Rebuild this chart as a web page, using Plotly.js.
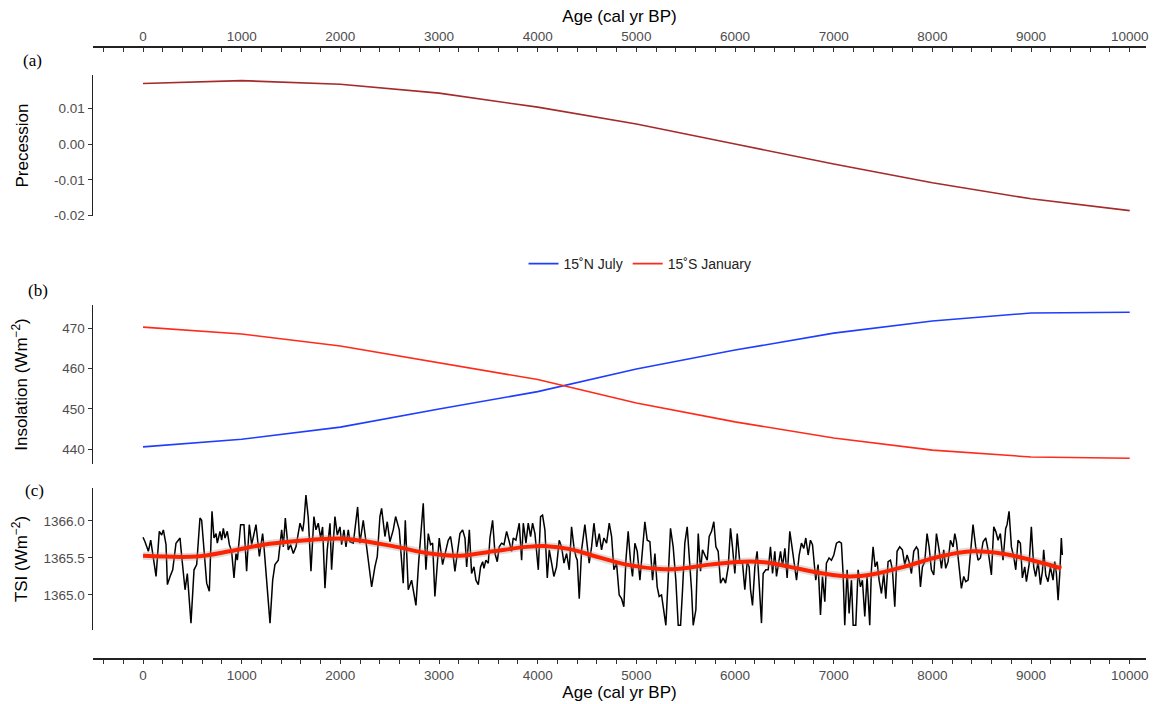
<!DOCTYPE html>
<html>
<head>
<meta charset="utf-8">
<script src="https://cdn.plot.ly/plotly-3.0.1.min.js"></script>
<style>html,body{margin:0;padding:0;background:#fff;}#chart{width:1174px;height:704px;}</style>
</head>
<body>
<div id="chart"></div>
<script>
// ---------- data ----------
const ages = [0, 1000, 2000, 3000, 4000, 5000, 6000, 7000, 8000, 9000, 10000];
const precession = [0.0169, 0.0177, 0.0167, 0.0142, 0.0103, 0.0056, 0.0000, -0.0056, -0.0108, -0.0153, -0.0186];
const insolN15July = [440.6, 442.5, 445.5, 450.0, 454.3, 459.9, 464.6, 468.8, 471.8, 473.8, 474.0];
const insolS15Jan = [470.3, 468.6, 465.6, 461.4, 457.3, 451.5, 446.8, 442.8, 439.8, 438.1, 437.8];

const tsiAge = [0,20,54,78,132,165,189,206,233,247,274,301,334,375,392,426,449,486,517,544,577,594,645,672,699,719,740,753,780,797,814,831,854,875,898,922,942,956,989,1023,1050,1077,1101,1145,1179,1212,1226,1246,1287,1314,1337,1371,1405,1422,1442,1472,1496,1523,1550,1591,1618,1631,1651,1675,1702,1732,1753,1776,1800,1820,1844,1867,1895,1911,1945,1969,1996,2013,2036,2057,2080,2097,2131,2175,2198,2232,2266,2317,2350,2374,2401,2418,2452,2475,2502,2536,2560,2597,2637,2658,2688,2722,2766,2793,2840,2867,2891,2914,2935,2958,3002,3036,3093,3117,3137,3161,3212,
3239,3263,3280,3307,3330,3354,3374,3398,3421,3442,3455,3475,3499,3516,3543,3567,3590,3610,3634,3658,3685,3712,3735,3752,3779,3813,3837,3854,3881,3904,3928,3948,3972,4006,4029,4049,4073,4097,4117,4141,4164,4191,4218,4242,4266,4293,4320,4343,4367,4387,4401,4421,4445,4478,4502,4522,4546,4570,4597,4624,4647,4671,4698,4725,4749,4772,4799,4826,4850,4873,4894,4917,4941,4961,4985,5009,5036,5063,5086,5110,5137,5164,5188,5211,5231,5255,5279,5299,5323,5346,5373,5400,5424,5448,5468,5491,5515,5535,5559,5576,5603,5627,5650,5670,5694,5718,5738,5762,5785,5806,5829,5853,5880,5904,5931,5954,5974,5998,6022,6049,6076,6099,6123,6143,6157,6177,6201,6224,6244,6268,6285,6312,6336,6359,6380,6403,6420,6447,6461,6481,6505,6528,6555,
6572,6589,6606,6623,6650,6673,6697,6717,6741,6764,6785,6798,6818,6842,6866,6886,6910,6926,6953,6977,7001,7028,7055,7078,7095,7112,7136,7156,7180,7197,7224,7247,7271,7291,7315,7338,7365,7382,7399,7420,7440,7460,7484,7507,7528,7551,7575,7595,7619,7642,7669,7696,7720,7744,7764,7788,7811,7838,7855,7879,7899,7923,7946,7967,7990,8014,8041,8068,8092,8115,8135,8159,8183,8210,8227,8244,8271,8294,8318,8338,8362,8385,8412,8439,8463,8487,8514,8541,8564,8598,8622,8642,8666,8689,8716,8743,8757,8777,8801,8824,8845,8868,8892,8912,8936,8953,8980,9003,9027,9047,9071,9095,9115,9128,9149,9172,9196,9223,9240,9257,9274,9291,9307,9317];

const tsiValue = [1365.78,1365.72,1365.59,1365.74,1365.25,1365.86,1365.81,1365.88,1365.68,1365.14,1365.25,1365.34,1365.70,1365.77,1365.52,1365.07,1365.29,1364.62,1365.34,1365.41,1366.04,1366.01,1365.16,1365.05,1366.13,1365.77,1365.83,1365.70,1365.86,1365.74,1365.90,1365.77,1365.86,1365.68,1365.59,1365.23,1365.56,1365.47,1365.95,1365.95,1365.32,1365.95,1365.68,1365.95,1365.52,1365.83,1365.65,1365.27,1364.62,1365.20,1365.41,1365.47,1365.88,1365.65,1366.04,1365.61,1365.68,1365.56,1365.65,1365.97,1365.86,1365.99,1366.35,1366.04,1365.32,1366.06,1365.88,1365.97,1365.77,1365.92,1365.09,1365.61,1365.97,1365.34,1366.06,1365.81,1365.92,1365.68,1365.88,1365.65,1365.88,1365.72,1365.70,1366.19,1365.70,1366.01,1365.65,1365.11,1365.38,1365.52,1366.06,1366.17,1365.79,1365.99,1365.72,1365.88,1366.06,1365.88,1365.16,1366.01,1365.07,1365.20,1364.86,1365.43,1366.24,1365.34,1365.83,1365.68,1365.70,1364.98,1365.77,1365.41,1365.74,1365.79,1365.61,1365.32,1365.83,
1365.88,1365.77,1365.38,1365.88,1365.29,1365.38,1365.20,1365.14,1365.38,1365.45,1365.36,1365.47,1365.43,1365.77,1366.01,1365.56,1365.45,1365.65,1365.70,1365.68,1365.86,1365.72,1365.59,1365.77,1365.74,1365.97,1365.47,1365.97,1365.70,1365.97,1365.79,1365.97,1365.83,1365.34,1366.06,1366.08,1365.88,1365.23,1365.61,1365.43,1365.25,1365.38,1365.74,1365.65,1365.43,1365.56,1365.34,1365.92,1365.65,1365.52,1365.47,1364.95,1365.61,1365.95,1365.65,1365.43,1365.65,1365.97,1365.65,1365.83,1365.61,1365.77,1365.70,1365.97,1365.79,1365.34,1365.43,1365.00,1364.95,1364.84,1365.47,1365.86,1365.45,1365.25,1365.70,1365.59,1365.20,1365.65,1365.99,1365.74,1365.72,1365.20,1365.56,1365.11,1364.98,1365.00,1364.80,1364.59,1365.25,1365.90,1365.65,1365.20,1364.59,1364.59,1365.07,1365.70,1365.92,1365.59,1365.07,1364.59,1364.80,1365.83,1365.32,1365.61,1365.54,1365.47,1365.79,1365.86,1365.99,1365.65,1365.59,1365.16,1365.23,1365.16,1365.38,1365.90,1365.65,1365.29,1365.83,1365.43,1365.43,1365.07,1365.45,1365.38,1365.07,1364.86,1365.38,1365.59,1365.16,1364.62,1365.29,1365.34,1365.34,1365.65,1365.29,1365.59,1365.25,1365.52,1365.59,1365.38,1365.63,1365.23,1365.86,
1365.70,1365.52,1365.38,1365.20,1365.54,1365.70,1365.63,1365.77,1365.54,1365.74,1365.68,1365.52,1365.20,1365.41,1364.73,1365.25,1364.91,1365.43,1365.50,1365.47,1365.54,1365.70,1365.72,1365.70,1365.29,1364.59,1365.34,1364.75,1365.20,1364.59,1364.59,1365.34,1365.11,1365.20,1364.71,1365.25,1364.59,1365.34,1365.65,1365.38,1365.45,1365.20,1365.02,1365.29,1364.95,1365.45,1365.47,1365.34,1364.84,1365.59,1365.65,1365.61,1365.41,1365.54,1365.45,1365.29,1365.59,1365.65,1365.61,1365.11,1365.38,1365.45,1365.83,1365.65,1365.34,1365.27,1365.83,1365.61,1365.36,1365.61,1365.36,1365.45,1365.74,1365.65,1365.83,1365.72,1365.38,1365.09,1365.25,1365.18,1365.20,1365.52,1365.95,1365.65,1365.47,1365.50,1365.72,1365.77,1365.61,1365.27,1365.92,1365.86,1365.74,1365.83,1365.47,1365.90,1365.95,1366.13,1365.65,1365.52,1365.34,1365.74,1365.70,1365.23,1365.38,1365.18,1365.41,1365.92,1365.38,1365.25,1365.45,1365.14,1365.32,1365.61,1365.27,1365.18,1365.38,1365.20,1365.45,1365.29,1364.93,1365.29,1365.77,1365.54];

const smoothAge = [0, 544, 880, 1219, 1557, 1895, 2030, 2232, 2570, 2908, 3212, 3550, 3887, 4090, 4326, 4563, 4901, 5238, 5407, 5745, 6083, 6319, 6555, 6893, 7163, 7399, 7737, 8075, 8412, 8649, 8919, 9307];
const smoothTSI = [1365.53, 1365.52, 1365.59, 1365.68, 1365.73, 1365.76, 1365.76, 1365.73, 1365.65, 1365.56, 1365.53, 1365.59, 1365.65, 1365.66, 1365.62, 1365.53, 1365.41, 1365.35, 1365.35, 1365.41, 1365.45, 1365.44, 1365.38, 1365.29, 1365.25, 1365.28, 1365.39, 1365.52, 1365.59, 1365.57, 1365.50, 1365.36];

const xTickVals = [];
const xTickText = [];
for (let v = -400; v <= 10000; v += 200) { xTickVals.push(v); xTickText.push(v % 1000 === 0 && v >= 0 ? String(v) : ' '); }
const precTickVals = [-0.02, -0.01, 0, 0.01];
const precTickText = ['-0.02', '-0.01', '0.00', '0.01'];
const insolTickVals = [440, 450, 460, 470];
const tsiTickVals = [1365.0, 1365.5, 1366.0];
const tsiTickText = ['1365.0', '1365.5', '1366.0'];

// ---------- traces ----------
const traces = [
  {x: ages, y: precession, xaxis: 'x2', yaxis: 'y', type: 'scatter', mode: 'lines',
   line: {color: '#A52A2A', width: 1.6}, showlegend: false, hoverinfo: 'skip'},
  {x: ages, y: insolN15July, xaxis: 'x', yaxis: 'y2', type: 'scatter', mode: 'lines', name: '15˚N July',
   line: {color: '#1f3dff', width: 1.6}},
  {x: ages, y: insolS15Jan, xaxis: 'x', yaxis: 'y2', type: 'scatter', mode: 'lines', name: '15˚S January',
   line: {color: '#ff2a1a', width: 1.6}},
  {x: tsiAge, y: tsiValue, xaxis: 'x', yaxis: 'y3', type: 'scatter', mode: 'lines',
   line: {color: '#000000', width: 1.5}, showlegend: false},
  {x: smoothAge, y: smoothTSI, xaxis: 'x', yaxis: 'y3', type: 'scatter', mode: 'lines',
   line: {color: 'rgba(160,160,160,0.35)', width: 8, shape: 'spline'}, showlegend: false, hoverinfo: 'skip'},
  {x: smoothAge, y: smoothTSI, xaxis: 'x', yaxis: 'y3', type: 'scatter', mode: 'lines',
   line: {color: '#ff2200', width: 4, shape: 'spline'}, showlegend: false}
];

const tickFont = {family: 'Liberation Sans, Arial, sans-serif', size: 13.5, color: '#4d4d4d'};
const titleFont = {family: 'Liberation Sans, Arial, sans-serif', size: 17, color: '#000000'};
const xRange = [-507, 10165];

const xCommon = {
  range: xRange, showgrid: false, zeroline: false, showline: true, linecolor: '#222', linewidth: 1.5,
  tickmode: 'array', tickvals: xTickVals, ticktext: xTickText, ticklen: 4, tickcolor: '#333', tickwidth: 1,
  tickfont: tickFont, tickangle: 0, automargin: false, fixedrange: true
};
const yCommon = {
  showgrid: false, zeroline: false, showline: true, linecolor: '#222', linewidth: 1.5,
  ticks: 'outside', ticklen: 4, tickcolor: '#333', tickwidth: 1, tickfont: tickFont,
  automargin: false, anchor: 'x', fixedrange: true, tickmode: 'array'
};

const panelFont = {family: 'Liberation Serif, Times New Roman, serif', size: 17, color: '#000'};

const layout = {
  width: 1174, height: 704,
  margin: {l: 93, r: 28, t: 46, b: 46},
  paper_bgcolor: '#ffffff', plot_bgcolor: 'rgba(0,0,0,0)',
  font: {family: 'Liberation Sans, Arial, sans-serif'},
  xaxis: Object.assign({}, xCommon, {
    domain: [0, 1], anchor: 'free', position: 0, side: 'bottom', ticks: 'outside',
    title: {text: 'Age (cal yr BP)', font: titleFont, standoff: 1}
  }),
  xaxis2: Object.assign({}, xCommon, {
    domain: [0, 1], anchor: 'free', position: 1, side: 'top', ticks: 'inside', overlaying: 'x',
    title: {text: 'Age (cal yr BP)', font: titleFont, standoff: 0}
  }),
  yaxis: Object.assign({}, yCommon, {
    domain: [0.7222, 0.9526], range: [-0.0201, 0.01927], anchor: 'x2',
    tickvals: precTickVals, ticktext: precTickText,
    title: {text: 'Precession', font: titleFont, standoff: 21}
  }),
  yaxis2: Object.assign({}, yCommon, {
    domain: [0.3170, 0.5768], range: [436.36, 475.78],
    tickvals: insolTickVals,
    title: {text: 'Insolation (Wm<sup>−2</sup>)', font: titleFont, standoff: 30}
  }),
  yaxis3: Object.assign({}, yCommon, {
    domain: [0.0458, 0.2778], range: [1364.527, 1366.446],
    tickvals: tsiTickVals, ticktext: tsiTickText,
    title: {text: 'TSI (Wm<sup>−2</sup>)', font: titleFont, standoff: 11}
  }),
  showlegend: true,
  legend: {orientation: 'h', x: 0.5195, y: 0.6438, xanchor: 'center', yanchor: 'middle',
    font: {family: 'Liberation Sans, Arial, sans-serif', size: 14, color: '#222'}, bgcolor: 'rgba(0,0,0,0)'},
  annotations: [
    {text: '(a)', xref: 'paper', yref: 'paper', x: -0.0579, y: 0.977, xanchor: 'center', yanchor: 'middle', showarrow: false, font: panelFont},
    {text: '(b)', xref: 'paper', yref: 'paper', x: -0.0522, y: 0.6013, xanchor: 'center', yanchor: 'middle', showarrow: false, font: panelFont},
    {text: '(c)', xref: 'paper', yref: 'paper', x: -0.0551, y: 0.2745, xanchor: 'center', yanchor: 'middle', showarrow: false, font: panelFont}
  ]
};

Plotly.newPlot('chart', traces, layout, {displayModeBar: false, staticPlot: true});
</script>
</body>
</html>
